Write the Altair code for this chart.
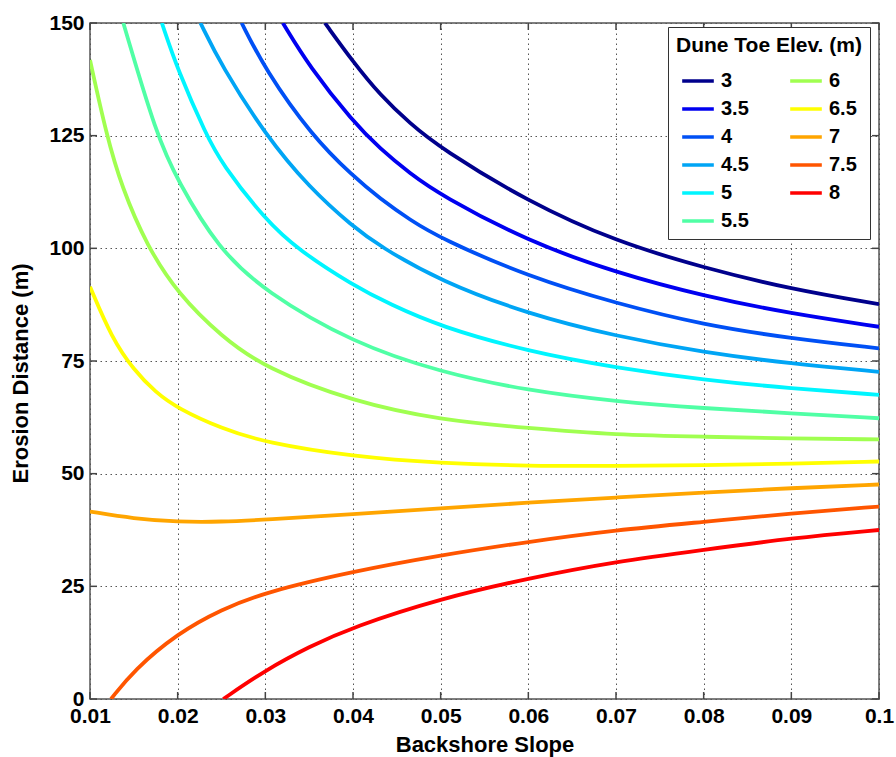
import altair as alt
import pandas as pd

# ---- axis ticks ----
x_ticks = [0.01, 0.02, 0.03, 0.04, 0.05, 0.06, 0.07, 0.08, 0.09, 0.1]
y_ticks = [0, 25, 50, 75, 100, 125, 150]

# ---- series (dune toe elevation, m) ----
elev_names = ["3", "3.5", "4", "4.5", "5", "5.5", "6", "6.5", "7", "7.5", "8"]
elev_colors = ["#00008C", "#0000F0", "#0050F5", "#00A5F5", "#00F5FF", "#50FFA5",
               "#A0FF50", "#FFFF00", "#FFA500", "#FF5500", "#FF0000"]

s3_x = [0.0368, 0.04, 0.0431, 0.0465, 0.05, 0.06, 0.07, 0.08, 0.09, 0.1]
s3_y = [150, 141.4, 134.0, 127.7, 122.2, 110.3, 101.5, 95.7, 90.9, 87.6]

s35_x = [0.032, 0.035, 0.04, 0.0431, 0.0465, 0.05, 0.06, 0.07, 0.08, 0.09, 0.1]
s35_y = [150, 140.4, 128.1, 122.1, 116.6, 111.8, 101.5, 94.6, 89.4, 85.5, 82.6]

s4_x = [0.0273, 0.03, 0.0353, 0.04, 0.0431, 0.0465, 0.05, 0.06, 0.07, 0.08, 0.09, 0.1]
s4_y = [150, 139.6, 125.0, 116.0, 111.0, 106.3, 102.2, 93.7, 87.8, 83.0, 80.0, 77.8]

s45_x = [0.0226, 0.025, 0.03, 0.035, 0.04, 0.0431, 0.05, 0.06, 0.07, 0.08, 0.09, 0.1]
s45_y = [150, 140.5, 125.2, 113.5, 104.8, 100.4, 92.7, 85.4, 80.5, 76.9, 74.4, 72.6]

s5_x = [0.0182, 0.02, 0.0233, 0.025, 0.03, 0.0338, 0.04, 0.0442, 0.05, 0.06, 0.07, 0.08, 0.09, 0.1]
s5_y = [150, 139.6, 125.0, 118.9, 106.3, 99.6, 91.8, 87.6, 82.6, 77.1, 73.5, 70.8, 68.9, 67.5]

s55_x = [0.0138, 0.0176, 0.02, 0.0246, 0.03, 0.04, 0.05, 0.06, 0.07, 0.08, 0.09, 0.1]
s55_y = [150, 125.0, 115.0, 100.0, 90.3, 79.0, 72.5, 68.4, 66.0, 64.5, 63.4, 62.3]

s6_x = [0.01, 0.0119, 0.0136, 0.0165, 0.02, 0.025, 0.03, 0.04, 0.05, 0.06, 0.07, 0.08, 0.09, 0.1]
s6_y = [141.8, 125.0, 113.7, 100.5, 90.0, 80.4, 73.4, 66.0, 61.9, 60.1, 58.6, 58.2, 57.8, 57.6]

s65_x = [0.01, 0.0125, 0.015, 0.0175, 0.02, 0.025, 0.03, 0.04, 0.05, 0.06, 0.07, 0.08, 0.09, 0.1]
s65_y = [91.5, 80.0, 73.0, 68.0, 64.5, 60.0, 56.9, 53.8, 52.3, 51.7, 51.7, 51.9, 52.2, 52.7]

s7_x = [0.01, 0.015, 0.02, 0.025, 0.03, 0.04, 0.05, 0.06, 0.07, 0.08, 0.09, 0.1]
s7_y = [41.6, 40.0, 39.3, 39.3, 39.8, 41.0, 42.3, 43.6, 44.7, 45.8, 46.8, 47.6]

s75_x = [0.0124, 0.015, 0.02, 0.025, 0.03, 0.04, 0.05, 0.06, 0.07, 0.08, 0.09, 0.1]
s75_y = [0, 6.4, 14.6, 19.9, 23.7, 28.3, 31.9, 34.9, 37.5, 39.3, 41.2, 42.7]

s8_x = [0.0252, 0.03, 0.035, 0.04, 0.05, 0.06, 0.07, 0.08, 0.09, 0.1]
s8_y = [0, 6.4, 11.6, 16.0, 22.3, 26.8, 30.5, 33.1, 35.7, 37.5]

series_x = [s3_x, s35_x, s4_x, s45_x, s5_x, s55_x, s6_x, s65_x, s7_x, s75_x, s8_x]
series_y = [s3_y, s35_y, s4_y, s45_y, s5_y, s55_y, s6_y, s65_y, s7_y, s75_y, s8_y]

rows = []
for name, xs, ys in zip(elev_names, series_x, series_y):
    for xv, yv in zip(xs, ys):
        rows.append({"elev": name, "slope": xv, "dist": yv})
df = pd.DataFrame(rows)

W, H = 789, 676
FONT = "Liberation Sans"

xscale = alt.Scale(domain=[0.01, 0.1], nice=False, zero=False)
yscale = alt.Scale(domain=[0, 150], nice=False, zero=False)
x_axis = alt.Axis(values=x_ticks, format=".2~f", title="Backshore Slope",
                  labelFlush=False, labelPadding=6, titlePadding=8)
y_axis = alt.Axis(values=y_ticks, title="Erosion Distance (m)",
                  labelPadding=6, titlePadding=16, titleY=350)

lines = alt.Chart(df).mark_line(strokeWidth=3.8, interpolate="basis", clip=True).encode(
    x=alt.X("slope:Q", scale=xscale, axis=x_axis),
    y=alt.Y("dist:Q", scale=yscale, axis=y_axis),
    color=alt.Color("elev:N",
                    scale=alt.Scale(domain=elev_names, range=elev_colors),
                    legend=alt.Legend(
                        title="Dune Toe Elev. (m)", orient="none", legendX=578, legendY=4,
                        columns=2, symbolType="stroke", symbolStrokeWidth=3.5,
                        symbolSize=1000, rowPadding=-5, columnPadding=34,
                        labelFont=FONT, labelFontWeight="bold", labelFontSize=20,
                        labelColor="#000", labelOffset=5, symbolOffset=4,
                        titleFont=FONT, titleFontWeight="bold", titleFontSize=21,
                        titleColor="#000", titlePadding=7, titleLimit=400,
                        fillColor="white", strokeColor="#333", padding=8)),
    detail="elev:N",
)

xt = pd.DataFrame({"slope": x_ticks})
yt = pd.DataFrame({"dist": y_ticks})
tick_style = dict(color="#444", strokeWidth=1.5)

bottom_ticks = alt.Chart(xt).mark_rule(**tick_style).encode(
    x=alt.X("slope:Q", scale=xscale, axis=x_axis), y=alt.value(H), y2=alt.value(H - 7))
top_ticks = alt.Chart(xt).mark_rule(**tick_style).encode(
    x=alt.X("slope:Q", scale=xscale, axis=x_axis), y=alt.value(0), y2=alt.value(7))
left_ticks = alt.Chart(yt).mark_rule(**tick_style).encode(
    y=alt.Y("dist:Q", scale=yscale, axis=y_axis), x=alt.value(0), x2=alt.value(7))
right_ticks = alt.Chart(yt).mark_rule(**tick_style).encode(
    y=alt.Y("dist:Q", scale=yscale, axis=y_axis), x=alt.value(W), x2=alt.value(W - 7))

chart = alt.layer(lines, bottom_ticks, top_ticks, left_ticks, right_ticks).properties(
    width=W, height=H,
    padding={"left": 90, "top": 23, "right": 17, "bottom": 58},
    autosize=alt.AutoSizeParams(type="none"),
    background="white",
).configure_view(
    stroke="#555", strokeWidth=1.5
).configure_axis(
    labelFont=FONT, labelFontWeight="bold", labelFontSize=21, labelColor="#000",
    titleFont=FONT, titleFontWeight="bold", titleFontSize=22, titleColor="#000",
    domain=False, ticks=False, grid=True, gridColor="#555", gridDash=[1.5, 3.5],
    gridWidth=1, gridOpacity=1,
)

chart.save("out.html", embed_options={"renderer": "svg", "actions": False})
